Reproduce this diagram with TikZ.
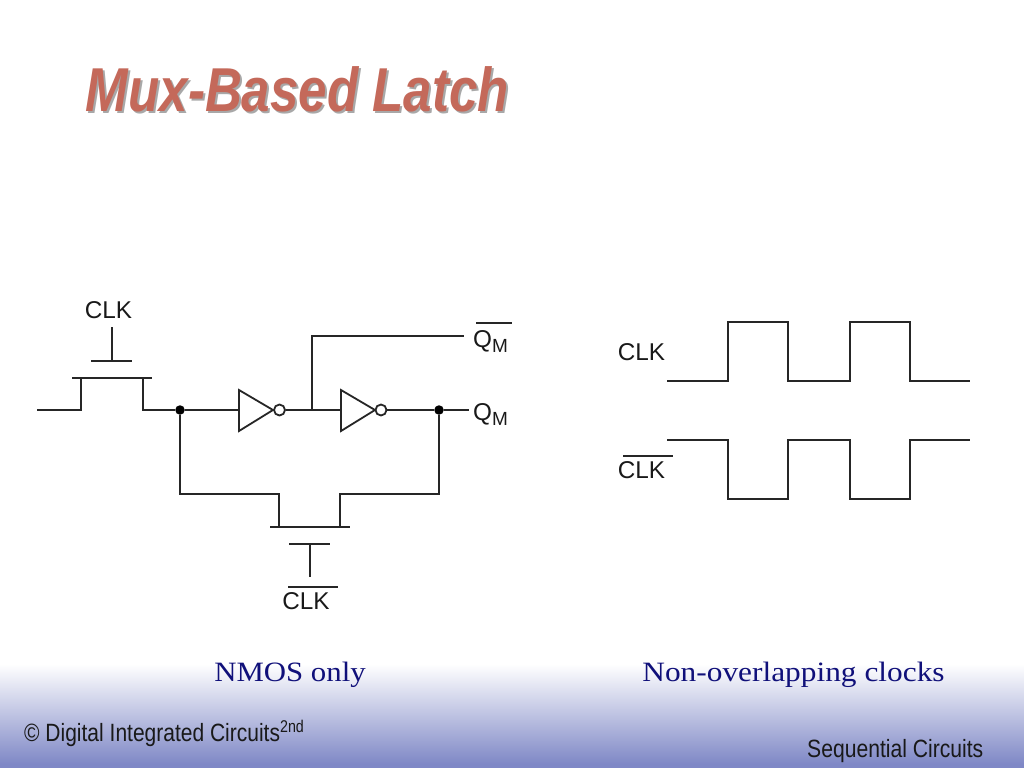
\documentclass[tikz,border=0pt]{standalone}
\usepackage{fontspec}
\setmainfont{Liberation Sans}
\newfontfamily\serifcap{Liberation Serif}
\definecolor{titlecol}{HTML}{C4695A}
\definecolor{shadowcol}{HTML}{A8A8A8}
\definecolor{navycol}{HTML}{10107A}
\definecolor{bandcol}{HTML}{7F88C6}
\tikzset{
  wire/.style={line width=1.6pt,black!85,line join=miter},
  thick bar/.style={line width=2.6pt,black!85},
  invtri/.style={line width=1.8pt,black!85,fill=white},
  bubble/.style={circle,draw=black!85,line width=1.8pt,fill=white,minimum size=11pt,inner sep=0pt},
  dotn/.style={circle,fill=black,minimum size=9.5pt,inner sep=0pt},
  lab/.style={font=\fontsize{24.3}{26}\selectfont,inner sep=0pt,text=black!90},
  captext/.style={font=\serifcap\fontsize{28}{30}\selectfont,inner sep=0pt,text=navycol},
  foot/.style={font=\fontsize{25}{28}\selectfont,inner sep=0pt,text=black!90,anchor=base west},
}
\newcommand{\QM}{Q\raisebox{-5pt}{\fontsize{19}{20}\selectfont M}}
\begin{document}
\begin{tikzpicture}[x=1pt,y=-1pt]
\useasboundingbox (0,0) rectangle (1024,768);
\fill[white] (0,0) rectangle (1024,768);
\shade[top color=white,bottom color=bandcol] (0,664) rectangle (1024,764);
\fill[bandcol] (0,764) rectangle (1024,768);
% title
\node[anchor=base west,inner sep=0pt,text=shadowcol] (titleshadow) at (87.5,113) {\scalebox{0.825}[1]{\fontsize{62}{66}\selectfont\bfseries\itshape Mux-Based Latch}};
\node[anchor=base west,inner sep=0pt,text=titlecol] (title) at (85.5,111) {\scalebox{0.825}[1]{\fontsize{62}{66}\selectfont\bfseries\itshape Mux-Based Latch}};
% coordinates: pass transistor 1
\coordinate (in) at (37,410);
\coordinate (s1) at (81,410);
\coordinate (s1g) at (81,378);
\coordinate (d1g) at (143,378);
\coordinate (d1) at (143,410);
\coordinate (g1a) at (72,378);
\coordinate (g1b) at (152,378);
\coordinate (b1a) at (91,361);
\coordinate (b1b) at (132,361);
\coordinate (b1m) at (112,361);
\coordinate (b1t) at (112,327);
% inverters
\coordinate (i1a) at (239,390);
\coordinate (i1b) at (239,431);
\coordinate (i1c) at (273,410);
\coordinate (i1in) at (239,410);
\coordinate (i2a) at (341,390);
\coordinate (i2b) at (341,431);
\coordinate (i2c) at (375,410);
\coordinate (i2in) at (341,410);
\coordinate (j) at (312,410);
\coordinate (jt) at (312,336);
\coordinate (qbe) at (464,336);
\coordinate (qe) at (468.5,410);
\node[dotn] (da) at (180,410) {};
\node[dotn] (db) at (439,410) {};
\node[bubble] (o1) at (279.5,410) {};
\node[bubble] (o2) at (381,410) {};
% lower transistor
\coordinate (la) at (180,494);
\coordinate (lb) at (279,494);
\coordinate (lc) at (279,527);
\coordinate (ld) at (340,527);
\coordinate (le) at (340,494);
\coordinate (lf) at (439,494);
\coordinate (g2a) at (270,527);
\coordinate (g2b) at (350,527);
\coordinate (b2a) at (289,544);
\coordinate (b2b) at (330,544);
\coordinate (b2m) at (310,544);
\coordinate (b2t) at (310,577);
% wires
\draw[wire] (in) -- (s1) -- (s1g);
\draw[wire] (d1g) -- (d1) -- (da);
\draw[thick bar] (g1a) -- (g1b);
\draw[thick bar] (b1a) -- (b1b);
\draw[wire] (b1m) -- (b1t);
\draw[wire] (da) -- (i1in);
\draw[invtri] (i1a) -- (i1c) -- (i1b) -- cycle;
\draw[wire] (o1) -- (i2in);
\draw[invtri] (i2a) -- (i2c) -- (i2b) -- cycle;
\draw[wire] (j) -- (jt) -- (qbe);
\draw[wire] (o2) -- (db);
\draw[wire] (db) -- (qe);
\draw[wire] (da) -- (la) -- (lb) -- (lc);
\draw[wire] (db) -- (lf) -- (le) -- (ld);
\draw[thick bar] (g2a) -- (g2b);
\draw[thick bar] (b2a) -- (b2b);
\draw[wire] (b2m) -- (b2t);
% labels
\node[lab] (clk1) at (108.5,310) {CLK};
\node[lab] (clk2) at (306,601) {CLK};
\coordinate (ob1a) at (288,587); \coordinate (ob1b) at (338,587);
\draw[wire] (ob1a) -- (ob1b);
\node[lab,anchor=base west] (qb) at (473,347) {\QM};
\coordinate (ob2a) at (476,323); \coordinate (ob2b) at (512,323);
\draw[wire] (ob2a) -- (ob2b);
\node[lab,anchor=base west] (q) at (473,420) {\QM};
% clocks
\node[lab] (clk3) at (641.5,352) {CLK};
\node[lab] (clk4) at (641.5,470) {CLK};
\coordinate (ob3a) at (623,456); \coordinate (ob3b) at (673,456);
\draw[wire] (ob3a) -- (ob3b);
\draw[wire] (667,381) -- (728,381) -- (728,322) -- (788,322) -- (788,381) -- (850,381) -- (850,322) -- (910,322) -- (910,381) -- (970,381);
\draw[wire] (667,440) -- (728,440) -- (728,499) -- (788,499) -- (788,440) -- (850,440) -- (850,499) -- (910,499) -- (910,440) -- (970,440);
% captions
\node[captext] (c1) at (290,675) {\scalebox{1.1}[1]{NMOS only}};
\node[captext] (c2) at (793.5,675) {\scalebox{1.12}[1]{Non-overlapping clocks}};
% footer
\node[foot] (f1) at (24,741) {\scalebox{0.84}[1]{© Digital Integrated Circuits\raisebox{9pt}{\fontsize{17}{18}\selectfont 2nd}}};
\node[foot] (f2) at (807,757) {\scalebox{0.845}[1]{Sequential Circuits}};
\end{tikzpicture}
\end{document}
